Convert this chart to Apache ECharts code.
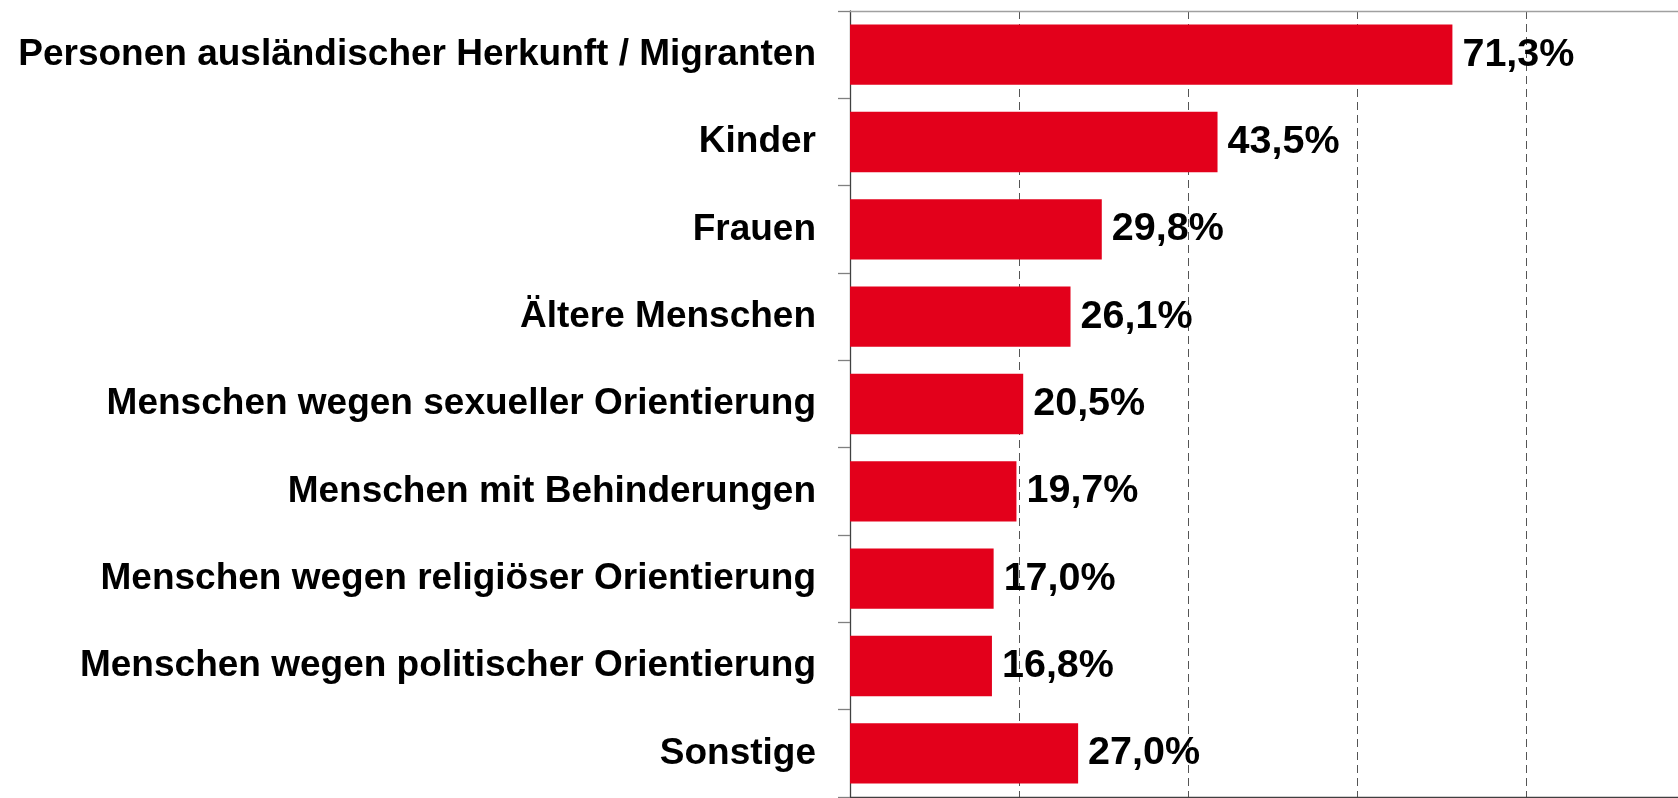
<!DOCTYPE html>
<html>
<head>
<meta charset="utf-8">
<script src="https://cdn.jsdelivr.net/npm/echarts@6/dist/echarts.min.js"></script>
<style>
  html, body { margin: 0; padding: 0; background: #fff; }
  #chart { width: 1678px; height: 798px; }
</style>
</head>
<body>
<div id="chart"></div>
<script>
// Kategorien (von oben nach unten)
const categories = [
  'Personen ausländischer Herkunft / Migranten',
  'Kinder',
  'Frauen',
  'Ältere Menschen',
  'Menschen wegen sexueller Orientierung',
  'Menschen mit Behinderungen',
  'Menschen wegen religiöser Orientierung',
  'Menschen wegen politischer Orientierung',
  'Sonstige'
]
// Anteile in Prozent
const values = [71.3, 43.5, 29.8, 26.1, 20.5, 19.7, 17.0, 16.8, 27.0]

const font = '"Liberation Sans", Arial, sans-serif'

const chart = echarts.init(document.getElementById('chart'))
const option = {
  animation: false,
  grid: { left: 850, right: 0, top: 11, bottom: 1 },
  xAxis: [
    {
      type: 'value',
      min: 0,
      max: 98,
      interval: 20,
      position: 'bottom',
      axisLine: { show: true, lineStyle: { color: '#404040', width: 1.3 } },
      axisTick: { show: false },
      axisLabel: { show: false },
      splitLine: {
        show: true,
        lineStyle: { color: '#555', width: 1, type: [8, 5] }
      }
    },
    {
      // obere Rahmenlinie
      type: 'value',
      min: 0,
      max: 98,
      position: 'top',
      axisLine: { show: true, lineStyle: { color: '#a0a0a0', width: 1.3 } },
      axisTick: { show: false },
      axisLabel: { show: false },
      splitLine: { show: false }
    }
  ],
  yAxis: {
    type: 'category',
    data: categories,
    inverse: true,
    axisLine: { show: true, lineStyle: { color: '#404040', width: 1.3 } },
    axisTick: { show: true, length: 12, lineStyle: { color: '#808080', width: 1.3 } },
    axisLabel: {
      margin: 34,
      color: '#000',
      fontFamily: font,
      fontWeight: 'bold',
      fontSize: 37,
      padding: [7, 0, 0, 0]
    }
  },
  series: [
    {
      type: 'bar',
      data: values,
      barCategoryGap: '31%',
      itemStyle: { color: '#e3001b' },
      label: {
        show: true,
        position: 'right',
        distance: 10,
        color: '#000',
        fontFamily: font,
        fontWeight: 'bold',
        fontSize: 39.5,
        padding: [6, 0, 0, 0],
        formatter: p => p.value.toFixed(1).replace('.', ',') + '%'
      }
    }
  ]
}
chart.setOption(option)
window.onresize = function () {
  chart.resize()
}
</script>
</body>
</html>
